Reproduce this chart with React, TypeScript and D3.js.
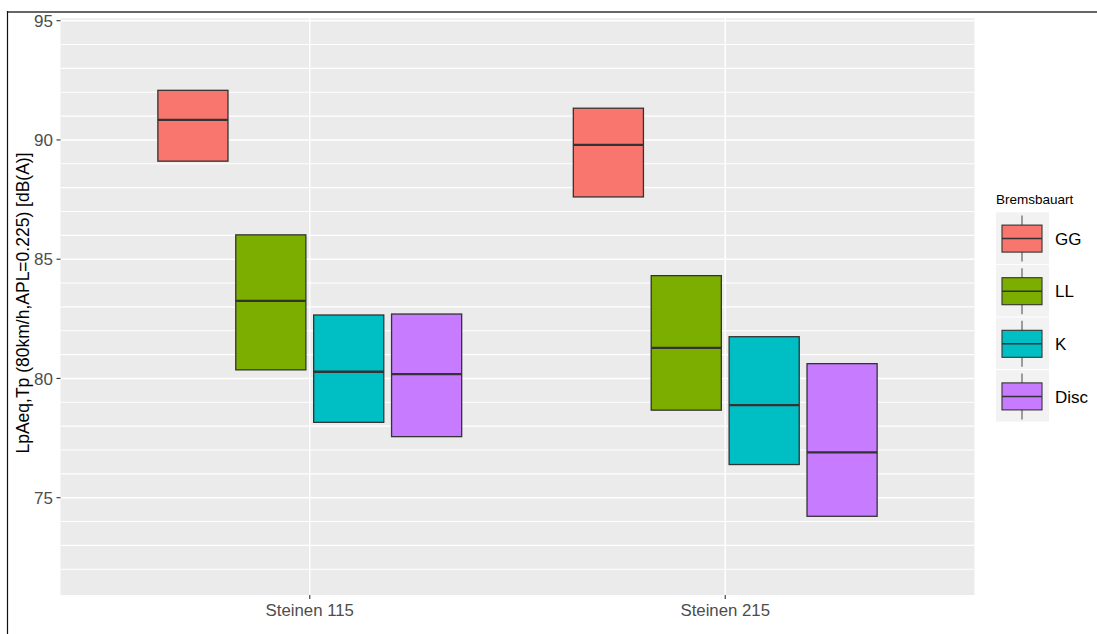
import React from "react";
import * as d3 from "d3";

// Sites on the x axis and brake types (dodged groups)
const sites = ["Steinen 115", "Steinen 215"];
const brakeTypes = ["GG", "LL", "K", "Disc"];
const brakeColors = ["#F8766D", "#7CAE00", "#00BFC4", "#C77CFF"];

// Box statistics per brake type (GG, LL, K, Disc)
const q1Steinen115 = [89.11, 80.36, 78.16, 77.56];
const medianSteinen115 = [90.84, 83.25, 80.28, 80.18];
const q3Steinen115 = [92.08, 86.02, 82.66, 82.7];

const q1Steinen215 = [87.61, 78.67, 76.39, 74.22];
const medianSteinen215 = [89.79, 81.28, 78.88, 76.9];
const q3Steinen215 = [91.33, 84.31, 81.75, 80.62];

const yTicks = [75, 80, 85, 90, 95];
const yGrid = d3.range(72, 96, 1);

const yTitle = "LpAeq,Tp (80km/h,APL=0.225) [dB(A)]";
const legendTitle = "Bremsbauart";

const W = 1097;
const H = 634;
const panel = { left: 60.5, right: 974.5, top: 18.3, bottom: 595 };
const FONT = "'Liberation Sans', Arial, sans-serif";

export default function App() {
  const y = d3.scaleLinear().domain([70.92, 95.1]).range([panel.bottom, panel.top]);
  const x = d3.scaleLinear().domain([0.4, 2.6]).range([panel.left, panel.right]);
  const dodge = d3
    .scaleBand<string>()
    .domain(brakeTypes)
    .range([-0.375, 0.375])
    .paddingInner(0.1)
    .paddingOuter(0.05);

  const stats = [
    { q1: q1Steinen115, med: medianSteinen115, q3: q3Steinen115 },
    { q1: q1Steinen215, med: medianSteinen215, q3: q3Steinen215 },
  ];

  const boxes = sites.flatMap((site, si) =>
    brakeTypes.map((b, bi) => {
      const x0 = x(si + 1 + (dodge(b) as number));
      const x1 = x(si + 1 + (dodge(b) as number) + dodge.bandwidth());
      return {
        key: site + b,
        x0,
        x1,
        top: y(stats[si].q3[bi]),
        bottom: y(stats[si].q1[bi]),
        med: y(stats[si].med[bi]),
        color: brakeColors[bi],
      };
    })
  );

  const keyTop = 212.3;
  const keyPitch = 52.6;

  return (
    <svg
      width={W}
      height={H}
      style={{ position: "absolute", left: 0, top: 0, display: "block", background: "#fff" }}
      fontFamily={FONT}
    >
      {/* outer frame */}
      <line x1={7} x2={W} y1={12} y2={12} stroke="#666" strokeWidth={2} />
      <line x1={7.5} x2={7.5} y1={11} y2={H} stroke="#111" strokeWidth={1.2} />

      {/* panel */}
      <rect
        x={panel.left}
        y={panel.top}
        width={panel.right - panel.left}
        height={panel.bottom - panel.top}
        fill="#EBEBEB"
      />
      {yGrid.map((v) => (
        <line
          key={"g" + v}
          x1={panel.left}
          x2={panel.right}
          y1={y(v)}
          y2={y(v)}
          stroke="#fff"
          strokeWidth={yTicks.includes(v) ? 1.4 : 1.1}
        />
      ))}
      {sites.map((s, i) => (
        <line
          key={"vg" + s}
          x1={x(i + 1)}
          x2={x(i + 1)}
          y1={panel.top}
          y2={panel.bottom}
          stroke="#fff"
          strokeWidth={1.4}
        />
      ))}

      {/* boxes */}
      {boxes.map((b) => (
        <g key={b.key}>
          <rect
            x={b.x0}
            y={b.top}
            width={b.x1 - b.x0}
            height={b.bottom - b.top}
            fill={b.color}
            stroke="#333"
            strokeWidth={1.3}
          />
          <line x1={b.x0} x2={b.x1} y1={b.med} y2={b.med} stroke="#333" strokeWidth={2.3} />
        </g>
      ))}

      {/* y axis */}
      {yTicks.map((v) => (
        <g key={"t" + v}>
          <line x1={panel.left - 4} x2={panel.left} y1={y(v)} y2={y(v)} stroke="#333" strokeWidth={1.1} />
          <text
            x={panel.left - 7.5}
            y={y(v)}
            dy="0.36em"
            textAnchor="end"
            fontSize={17}
            fill="#4D4D4D"
          >
            {v}
          </text>
        </g>
      ))}
      <text
        transform={`translate(29,303) rotate(-90)`}
        textAnchor="middle"
        fontSize={17.5}
        fill="#000"
      >
        {yTitle}
      </text>

      {/* x axis */}
      {sites.map((s, i) => (
        <g key={"xt" + s}>
          <line
            x1={x(i + 1)}
            x2={x(i + 1)}
            y1={panel.bottom}
            y2={panel.bottom + 4}
            stroke="#333"
            strokeWidth={1.1}
          />
          <text x={x(i + 1)} y={616} textAnchor="middle" fontSize={16.8} fill="#4D4D4D">
            {s}
          </text>
        </g>
      ))}

      {/* legend */}
      <text x={996} y={204} fontSize={13.5} fill="#000">
        {legendTitle}
      </text>
      {brakeTypes.map((b, i) => {
        const top = keyTop + i * keyPitch;
        const cy = top + keyPitch / 2;
        return (
          <g key={"lg" + b}>
            <rect x={996} y={top} width={53} height={keyPitch - 1} fill="#F2F2F2" />
            <line x1={1022} x2={1022} y1={cy - 23} y2={cy + 23} stroke="#555" strokeWidth={1.1} />
            <rect
              x={1002}
              y={cy - 13.5}
              width={40}
              height={27}
              fill={brakeColors[i]}
              stroke="#333"
              strokeWidth={1.1}
            />
            <line x1={1002} x2={1042} y1={cy} y2={cy} stroke="#333" strokeWidth={1.5} />
            <text x={1055} y={cy} dy="0.36em" fontSize={17} fill="#000">
              {b}
            </text>
          </g>
        );
      })}
    </svg>
  );
}
